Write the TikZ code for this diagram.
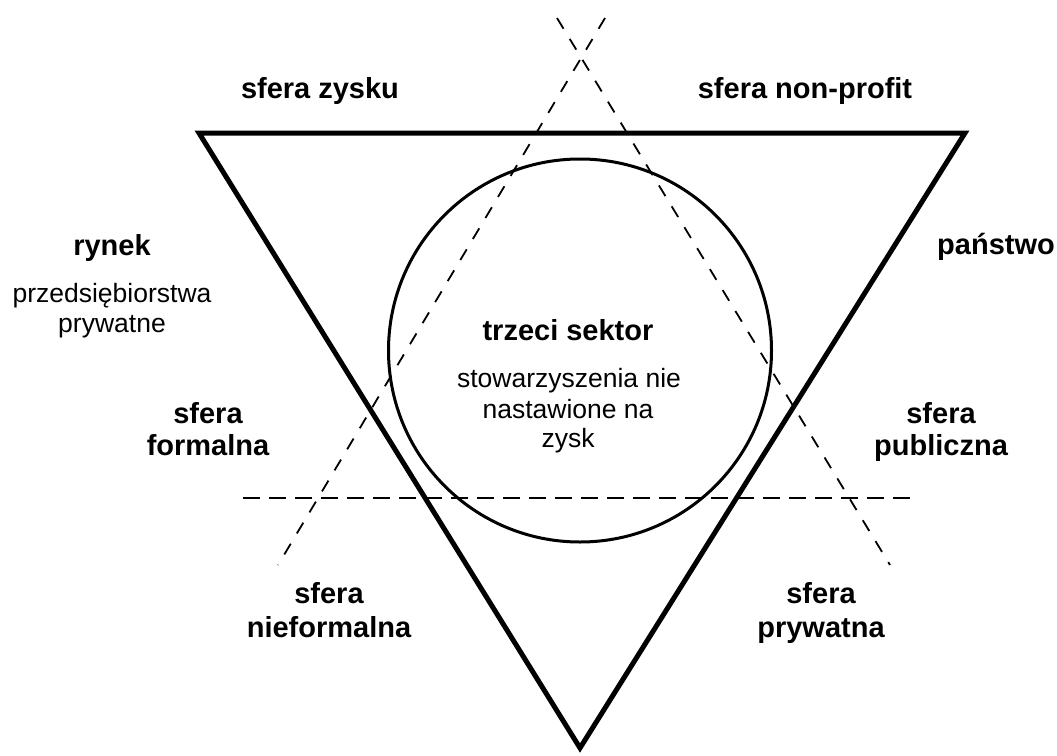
\documentclass[tikz,border=0pt]{standalone}
\usepackage{fontspec}
\setmainfont{Liberation Sans}
\begin{document}
\begin{tikzpicture}[x=1pt,y=-1pt,
  frame/.style={line width=5pt,line join=miter},
  ring/.style={line width=3pt},
  guide/.style={line width=1.8pt,dash pattern=on 12.5pt off 12pt},
  hguide/.style={line width=2pt,dash pattern=on 17pt off 9pt},
  head/.style={anchor=base,inner sep=0pt,font=\fontsize{29}{34}\selectfont\bfseries},
  note/.style={anchor=base,inner sep=0pt,font=\fontsize{26.5}{30}\selectfont}]
\useasboundingbox (0,0) rectangle (1057,755);
% corners of the main triangle
\coordinate (tl) at (199,133);
\coordinate (tr) at (965,133);
\coordinate (bot) at (580,748);
% circle centre
\coordinate (c) at (580,350.5);
% end points of the dashed guide lines
\coordinate (a1) at (557,18);
\coordinate (a2) at (890,565);
\coordinate (b1) at (605,18);
\coordinate (b2) at (278,565);
\coordinate (h1) at (243,498);
\coordinate (h2) at (915,498);

\draw[guide] (a1) -- (a2);
\draw[guide] (b1) -- (b2);
\draw[hguide] (h1) -- (h2);
\draw[ring] (c) circle (191.5);
\draw[frame] (tl) -- (tr) -- (bot) -- cycle;

% labels
\node[head] (zysk) at (320,98) {sfera zysku};
\node[head] (nonprofit) at (805,98) {sfera non-profit};
\node[head] (rynek) at (112,255) {rynek};
\node[note] (przeds1) at (112,302) {przedsiębiorstwa};
\node[note] (przeds2) at (112,332) {prywatne};
\node[head] (formal1) at (208,423) {sfera};
\node[head] (formal2) at (208,455) {formalna};
\node[head] (panstwo) at (996,254) {państwo};
\node[head] (publ1) at (941,423) {sfera};
\node[head] (publ2) at (941,455) {publiczna};
\node[head] (nieform1) at (329,603) {sfera};
\node[head] (nieform2) at (329,637) {nieformalna};
\node[head] (pryw1) at (821,603) {sfera};
\node[head] (pryw2) at (821,637) {prywatna};
\node[head] (trzeci) at (568,340) {trzeci sektor};
\node[note] (stow1) at (569,387) {stowarzyszenia nie};
\node[note] (stow2) at (568,418) {nastawione na};
\node[note] (stow3) at (568,447) {zysk};
\end{tikzpicture}
\end{document}
